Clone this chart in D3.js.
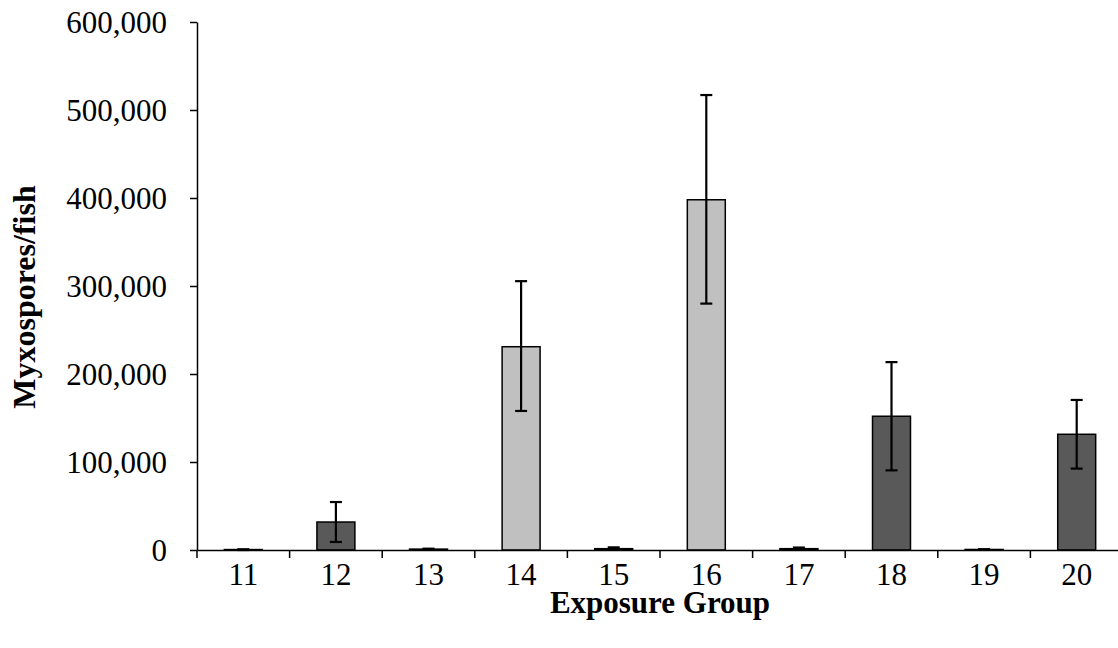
<!DOCTYPE html>
<html>
<head>
<meta charset="utf-8">
<script src="https://cdn.jsdelivr.net/npm/d3@7/dist/d3.min.js"></script>
<style>
  html, body { margin: 0; padding: 0; background: #fff; }
  svg { display: block; }
  text { font-family: "Liberation Serif", "Times New Roman", serif; fill: #000; }
</style>
</head>
<body>
<svg id="chart" width="1118" height="648"></svg>
<script>
// ---- data ----
const categories = ["11", "12", "13", "14", "15", "16", "17", "18", "19", "20"];
const values     = [500, 31800, 1000, 231000, 1500, 398000, 1500, 152000, 600, 131500];
const errLow     = [0, 9100, 500, 158000, 500, 280000, 500, 90500, 300, 92500];
const errHigh    = [800, 54500, 1500, 305500, 3000, 517000, 2800, 213500, 900, 170500];
const groupType  = ["dark", "dark", "light", "light", "light", "light", "dark", "dark", "dark", "dark"];
const yTicks     = [0, 100000, 200000, 300000, 400000, 500000, 600000];
const xTitle = "Exposure Group";
const yTitle = "Myxospores/fish";

(function () {
const colors = { light: "#c0c0c0", dark: "#595959" };

const svg = d3.select("#chart");
const mLeft = 197, mRight = 1123, mTop = 22, mBottom = 550;

const x = d3.scaleBand().domain(categories).range([mLeft, mRight])
  .paddingInner(0.59).paddingOuter(0.295);
const y = d3.scaleLinear().domain([0, 600000]).range([mBottom, mTop]);

// bars
svg.append("g").selectAll("rect").data(categories).join("rect")
  .attr("x", d => x(d))
  .attr("y", (d, i) => y(values[i]))
  .attr("width", x.bandwidth())
  .attr("height", (d, i) => y(0) - y(values[i]))
  .attr("fill", (d, i) => colors[groupType[i]])
  .attr("stroke", "#000")
  .attr("stroke-width", 1.5);

// error bars
const eb = svg.append("g").attr("stroke", "#000").attr("stroke-width", 2.2);
categories.forEach((c, i) => {
  const cx = x(c) + x.bandwidth() / 2;
  eb.append("line").attr("x1", cx).attr("x2", cx).attr("y1", y(errLow[i])).attr("y2", y(errHigh[i]));
  [errLow[i], errHigh[i]].forEach(v => {
    eb.append("line").attr("x1", cx - 6).attr("x2", cx + 6).attr("y1", y(v)).attr("y2", y(v));
  });
});

// y axis
const yAxis = svg.append("g").attr("transform", `translate(${mLeft},0)`)
  .call(d3.axisLeft(y).tickValues(yTicks).tickFormat(d3.format(",")).tickSize(7).tickSizeOuter(0).tickPadding(23));
yAxis.select(".domain").attr("stroke", "#000").attr("stroke-width", 1.5);
yAxis.selectAll(".tick line").attr("stroke", "#000").attr("stroke-width", 1.5);
yAxis.selectAll(".tick text").style("font-size", "31px").style("font-family", "Liberation Serif, serif").attr("dy", "0.34em");

// x axis
const xAxis = svg.append("g").attr("transform", `translate(0,${mBottom})`)
  .call(d3.axisBottom(x).tickSize(0).tickSizeOuter(0).tickPadding(13));
xAxis.select(".domain").attr("stroke", "#000").attr("stroke-width", 1.5);
xAxis.selectAll(".tick text").style("font-size", "31px").style("font-family", "Liberation Serif, serif");
// boundary ticks between groups
const bounds = categories.map(c => x(c) - x.step() * x.paddingInner() / 2);
xAxis.selectAll(".bt").data(bounds).join("line").attr("class", "bt")
  .attr("x1", d => d).attr("x2", d => d).attr("y1", 0).attr("y2", 8)
  .attr("stroke", "#000").attr("stroke-width", 1.5);

// titles
svg.append("text").attr("x", (mLeft + mRight) / 2).attr("y", 613)
  .attr("text-anchor", "middle").style("font-size", "31px").style("font-weight", "bold").text(xTitle);
svg.append("text").attr("transform", `translate(35,297) rotate(-90)`)
  .attr("text-anchor", "middle").style("font-size", "32px").style("font-weight", "bold").text(yTitle);
})();
</script>
</body>
</html>
